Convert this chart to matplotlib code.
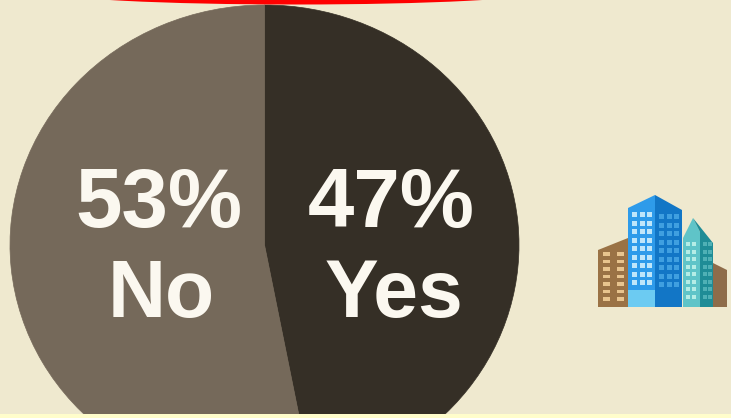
#!/usr/bin/env python
import matplotlib
matplotlib.use('Agg')
import matplotlib.pyplot as plt
from matplotlib.patches import Polygon, Rectangle, Ellipse

labels = ['47%\nYes', '53%\nNo']
values = [47, 53]
colors = ['#352F26', '#75695A']

W, H = 731, 418
cx, cy, rx, ry = 264.5, 245, 254.5, 240

fig = plt.figure(figsize=(W / 100, H / 100), dpi=100, facecolor='#EFE9CF')

# pie, stretched a bit taller than wide like the picture
ax = fig.add_axes([0, 0, 1, 1])
wedges, _ = ax.pie(values, colors=colors, startangle=90, counterclock=False, radius=1)
for w, c in zip(wedges, colors):
    w.set_edgecolor(c)
    w.set_linewidth(0.5)
ax.set_aspect('auto')
ax.set_xlim((0 - cx) / rx, (W - cx) / rx)
ax.set_ylim((cy - H) / ry, (cy - 0) / ry)
ax.axis('off')

# overlay in pixel coordinates
ov = fig.add_axes([0, 0, 1, 1])
ov.set_xlim(0, W)
ov.set_ylim(H, 0)
ov.axis('off')
ov.patch.set_alpha(0)

ov.add_patch(Ellipse((296, -8), 484, 25, fc='#FE0000', ec='none'))
ov.add_patch(Rectangle((0, 414), W, 4, fc='#FFFDCB', ec='none'))

txt = dict(color='#FBF8F0', family='Liberation Sans', weight='bold',
           ha='center', va='baseline')
ov.text(158.5, 227, '53%', size=60, **txt)
ov.text(161.5, 317, 'No', size=58, **txt)
ov.text(391.5, 227, '47%', size=60, **txt)
ov.text(394, 317, 'Yes', size=58, **txt)

# building icon
def poly(pts, c):
    ov.add_patch(Polygon(pts, closed=True, fc=c, ec='none'))

poly([(598, 250), (628, 238), (628, 307), (598, 307)], '#9A7245')
poly([(713, 263), (727, 270), (727, 307), (713, 307)], '#8E6C4A')
poly([(683, 238), (693, 218), (700, 232), (700, 307), (683, 307)], '#5FC4C8')
poly([(693, 218), (713, 243), (713, 307), (700, 307), (700, 232)], '#1F8C96')
poly([(628, 208), (655, 195), (655, 307), (628, 307)], '#2E9BEA')
poly([(655, 195), (682, 210), (682, 307), (655, 307)], '#1276C6')
poly([(628, 290), (655, 290), (655, 307), (628, 307)], '#6CCBF2')

for row in range(7):
    y = 252 + row * 7.5
    for x in (603, 617):
        ov.add_patch(Rectangle((x, y), 7, 3.5, fc='#E8C48E', ec='none'))
for row in range(9):
    y = 212 + row * 8.5
    for col in range(3):
        ov.add_patch(Rectangle((632 + col * 7.5, y), 5, 5, fc='#BFE6FA', ec='none'))
        ov.add_patch(Rectangle((659 + col * 7.5, y + 2), 5, 5, fc='#3F9FE0', ec='none'))
for row in range(8):
    y = 242 + row * 7.5
    for col in range(2):
        ov.add_patch(Rectangle((686 + col * 6, y), 4, 4, fc='#B5EDE6', ec='none'))
        ov.add_patch(Rectangle((703 + col * 5, y), 3.5, 4, fc='#4FB0B5', ec='none'))

fig.savefig('out.png', dpi=100, facecolor=fig.get_facecolor())
